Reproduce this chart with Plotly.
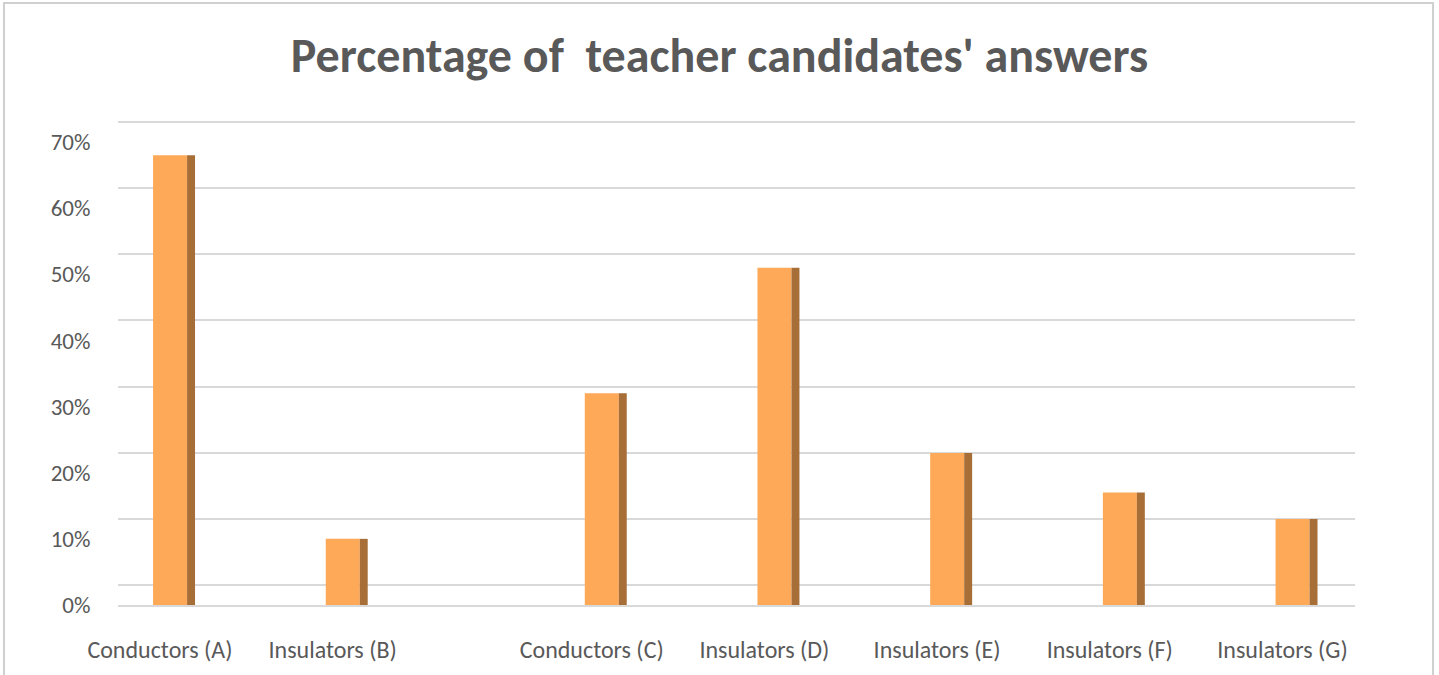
import plotly.graph_objects as go

categories = ["Conductors (A)", "Insulators (B)", "Conductors (C)", "Insulators (D)",
              "Insulators (E)", "Insulators (F)", "Insulators (G)"]
positions = [0, 1, 2.5, 3.5, 4.5, 5.5, 6.5]
values = [0.68, 0.10, 0.32, 0.51, 0.23, 0.17, 0.13]
y_ticks = [0, 0.1, 0.2, 0.3, 0.4, 0.5, 0.6, 0.7]
y_tick_labels = ["0%", "10%", "20%", "30%", "40%", "50%", "60%", "70%"]

FONT = "Carlito, Lato, 'Open Sans', sans-serif"
GRAY = "#595959"

L, R, T, B = 118, 84, 120, 70
W, H = 1439, 675
PW, PH = W - L - R, H - T - B
PX_PER_UNIT = 661.4
Y_TOP = PH / PX_PER_UNIT
SHIFT = 20 / PX_PER_UNIT  # back-wall gridlines drawn slightly higher (3D look)

fig = go.Figure()
# front face
fig.add_trace(go.Bar(
    x=positions, y=values, offset=-0.04, width=0.197,
    marker=dict(color="#FEA957", line=dict(width=0)),
    hoverinfo="skip", showlegend=False,
))
# side face (3D look)
fig.add_trace(go.Bar(
    x=positions, y=values, offset=0.157, width=0.046,
    marker=dict(color="#A86E38", line=dict(width=0)),
    hoverinfo="skip", showlegend=False,
))
# invisible trace carrying the back-wall grid axis
fig.add_trace(go.Scatter(
    x=positions, y=values, yaxis="y2", mode="markers",
    marker=dict(opacity=0), hoverinfo="skip", showlegend=False,
))

fig.update_layout(
    width=W, height=H,
    margin=dict(l=L, r=R, t=T, b=B),
    paper_bgcolor="white", plot_bgcolor="white",
    barmode="overlay",
    title=dict(
        text="<b>Percentage of  teacher candidates' answers</b>",
        x=0.5, xanchor="center", y=1 - 55 / H, yanchor="middle",
        yref="container",
        font=dict(family=FONT, size=48, color=GRAY),
    ),
    xaxis=dict(
        range=[-0.243, 6.92],
        tickvals=positions, ticktext=categories,
        showgrid=False, zeroline=False,
        showline=True, linecolor="#D9D9D9", linewidth=2,
        ticks="outside", ticklen=0, ticklabelstandoff=22,
        tickfont=dict(family=FONT, size=24, color=GRAY),
        fixedrange=True,
    ),
    yaxis=dict(
        range=[0, Y_TOP],
        tickvals=y_ticks, ticktext=y_tick_labels,
        showgrid=False, zeroline=False, showline=False,
        ticks="outside", ticklen=0, ticklabelstandoff=22,
        tickfont=dict(family=FONT, size=23, color=GRAY),
        fixedrange=True,
    ),
    yaxis2=dict(
        overlaying="y", side="right",
        range=[-SHIFT, Y_TOP - SHIFT],
        tickvals=y_ticks, showticklabels=False,
        showgrid=True, gridcolor="#D9D9D9", gridwidth=2,
        zeroline=False, showline=False, ticks="",
        fixedrange=True,
    ),
    shapes=[
        dict(type="rect", xref="paper", yref="paper",
             x0=(4 - L) / PW, x1=(1433 - L) / PW,
             y0=(H - B - 700) / PH, y1=(H - B - 3) / PH,
             line=dict(color="#D0D0D0", width=2), fillcolor="rgba(0,0,0,0)",
             layer="below"),
    ],
)

fig.write_html("out.html", config={"displayModeBar": False},
               post_script="document.body.style.margin='0';")
